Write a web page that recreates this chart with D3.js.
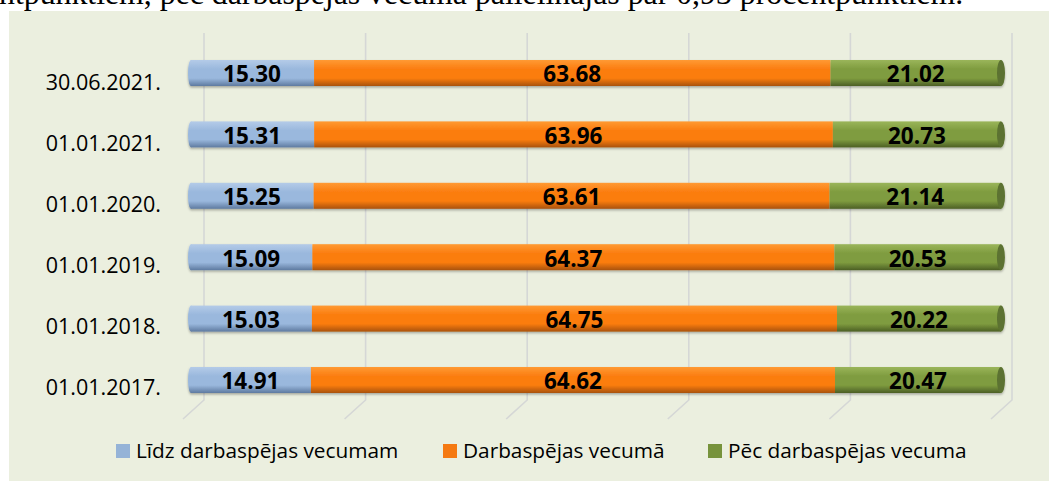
<!DOCTYPE html>
<html><head><meta charset="utf-8">
<script src="https://cdn.jsdelivr.net/npm/d3@7"></script>
<style>
html,body{margin:0;padding:0;background:#fff;overflow:hidden}
svg{display:block}
</style></head>
<body>
<svg id="chart" width="1049" height="481"></svg>
<script>
const categories = ["30.06.2021.","01.01.2021.","01.01.2020.","01.01.2019.","01.01.2018.","01.01.2017."];
const seriesNames = ["Līdz darbaspējas vecumam","Darbaspējas vecumā","Pēc darbaspējas vecuma"];
const lidz = [15.30,15.31,15.25,15.09,15.03,14.91];
const darba = [63.68,63.96,63.61,64.37,64.75,64.62];
const pec = [21.02,20.73,21.14,20.53,20.22,20.47];
const xTicks = [0,20,40,60,80,100];
const headText = "ntpunktiem, pēc darbaspējas vecumā palielinājās par 0,93 procentpunktiem.";

const colors = [
  {top:"#b4cbe8", mid:"#9ab8dd", bot:"#5e7aa0", legend:"#95b3d7", cap:"#7f9cc4"},
  {top:"#ff9a33", mid:"#fb7d10", bot:"#a9520a", legend:"#f57a12", cap:"#c9620c"},
  {top:"#9ab55a", mid:"#7f9c3f", bot:"#4c5f25", legend:"#77933c", cap:"#5b7230"}
];

const svg = d3.select("#chart");
const defs = svg.append("defs");
colors.forEach((c,i)=>{
  const g = defs.append("linearGradient").attr("id","g"+i).attr("x1",0).attr("y1",0).attr("x2",0).attr("y2",1);
  g.append("stop").attr("offset","0%").attr("stop-color",c.top);
  g.append("stop").attr("offset","35%").attr("stop-color",c.mid);
  g.append("stop").attr("offset","70%").attr("stop-color",c.mid);
  g.append("stop").attr("offset","100%").attr("stop-color",c.bot);
});
const f = defs.append("filter").attr("id","sh").attr("x","-5%").attr("y","-40%").attr("width","110%").attr("height","190%");
f.append("feDropShadow").attr("dx",0).attr("dy",1.5).attr("stdDeviation",1.3).attr("flood-color","#000").attr("flood-opacity",0.3);

// top text (partly above the page edge, as in the reference)
svg.append("text").attr("x",-1).attr("y",4)
  .attr("font-family","Liberation Serif, Times New Roman, serif").attr("font-size",31.8)
  .attr("fill","#000").text(headText);

// panel
svg.append("rect").attr("x",9).attr("y",11).attr("width",1040).attr("height",470).attr("fill","#ebefdf");

const xBack = d3.scaleLinear().domain([0,100]).range([204,1012]);
const xBar = d3.scaleLinear().domain([0,100]).range([190,1001]);
const y = d3.scalePoint().domain(categories).range([73,380]);
const barH = 26;
const dx = -21, dy = 19, gTop = 33, gBot = 400;

// gridlines (3D walls)
const grid = svg.append("g");
xTicks.forEach(t=>{
  const xb = xBack(t);
  grid.append("path")
    .attr("d",`M${xb},${gTop}L${xb},${gBot}L${xb+dx},${gBot+dy}`)
    .attr("fill","none").attr("stroke","#d5d7d6").attr("stroke-width",1.6);
});

// category labels
svg.append("g").selectAll("text").data(categories).join("text")
  .attr("x",161).attr("y",(d,i)=>y(d)+9-i*0.3).attr("dy","0.35em")
  .attr("text-anchor","end")
  .attr("font-family","Open Sans, sans-serif").attr("font-size",21.5).attr("fill","#000")
  .text(d=>d);

const data = [lidz,darba,pec];
const stacked = categories.map((c,i)=>{
  let acc=0;
  return data.map((s,k)=>{const v=s[i]; const o={cat:c,k,v,x0:acc,x1:acc+v}; acc+=v; return o;});
});

const bars = svg.append("g");
stacked.forEach(row=>{
  const g = bars.append("g").attr("filter","url(#sh)");
  const yc = y(row[0].cat);
  g.append("ellipse").attr("cx",xBar(0)+1).attr("cy",yc).attr("rx",3).attr("ry",barH/2)
    .attr("fill","url(#g0)");
  row.forEach(s=>{
    g.append("rect").attr("x",xBar(s.x0)+ (s.k===0?1:0)).attr("y",yc-barH/2)
      .attr("width",xBar(s.x1)-xBar(s.x0)-(s.k===0?1:0)).attr("height",barH)
      .attr("fill",`url(#g${s.k})`);
  });
  const last=row[row.length-1];
  g.append("ellipse").attr("cx",xBar(last.x1)).attr("cy",yc).attr("rx",4).attr("ry",barH/2)
    .attr("fill",colors[2].cap);
});

// value labels
const labels = svg.append("g");
stacked.forEach(row=>{
  row.forEach(s=>{
    labels.append("text")
      .attr("x",(xBar(s.x0)+xBar(s.x1))/2).attr("y",y(s.cat)+1.5).attr("dy","0.35em")
      .attr("text-anchor","middle")
      .attr("font-family","Open Sans, sans-serif").attr("font-weight","bold").attr("font-size",22.5)
      .attr("fill","#000").text(s.v.toFixed(2));
  });
});

// legend
const legendX = [116,443,708];
const lg = svg.append("g");
seriesNames.forEach((n,i)=>{
  lg.append("rect").attr("x",legendX[i]).attr("y",444).attr("width",14).attr("height",14).attr("fill",colors[i].legend);
  lg.append("text").attr("x",legendX[i]+20).attr("y",451).attr("dy","0.35em")
    .attr("font-family","Open Sans, sans-serif").attr("font-size",20.8).attr("fill","#000").text(n);
});
</script>
</body></html>
